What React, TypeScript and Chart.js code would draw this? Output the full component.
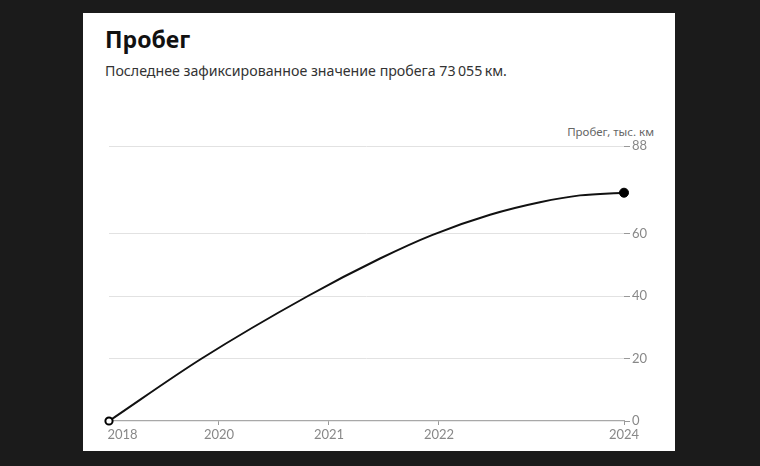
import React, { useEffect, useRef } from "react";
import { Chart, registerables } from "chart.js";

Chart.register(...registerables);

// Data (x positions in fractional years along the time axis, mileage in thousand km)
const xPositions = [2019.0, 2019.843, 2020.809, 2021.464, 2021.936, 2022.464, 2022.918, 2023.282, 2023.682];
const mileage = [0, 20, 40, 52, 59.5, 66.0, 70.0, 72.2, 73.055];
const xTickValues = [2019.0, 2020, 2021, 2022, 2023.682];
const xTickLabels = ["2018", "2020", "2021", "2022", "2024"];
const yTickValues = [0, 20, 40, 60, 88];

const TITLE = "Пробег";
const SUBTITLE = "Последнее зафиксированное значение пробега 73\u2009055\u2009км.";
const AXIS_TITLE = "Пробег, тыс. км";

const xLabelsPlugin = {
  id: "xLabels",
  afterDraw(chart: any) {
    const scale = chart.scales.x;
    const ctx = chart.ctx;
    ctx.save();
    ctx.font = "13px Lato";
    ctx.fillStyle = "#888";
    ctx.textBaseline = "alphabetic";
    xTickValues.forEach((v, i) => {
      const px = scale.getPixelForValue(v);
      ctx.textAlign = i === 0 ? "left" : "center";
      ctx.fillText(xTickLabels[i], i === 0 ? px - 1.5 : px, chart.chartArea.bottom + 18);
    });
    ctx.restore();
  },
};

export default function App() {
  const canvasRef = useRef<HTMLCanvasElement | null>(null);

  useEffect(() => {
    if (!canvasRef.current) return;
    const n = mileage.length;
    const chart = new Chart(canvasRef.current, {
      type: "line",
      data: {
        datasets: [
          {
            data: xPositions.map((x, i) => ({ x, y: mileage[i] })),
            borderColor: "#111",
            borderWidth: 2,
            cubicInterpolationMode: "monotone",
            pointRadius: mileage.map((_, i) => (i === 0 ? 3.6 : i === n - 1 ? 4.5 : 0)),
            pointBackgroundColor: mileage.map((_, i) => (i === 0 ? "#fff" : "#000")),
            pointBorderColor: "#000",
            pointBorderWidth: mileage.map((_, i) => (i === 0 ? 2 : 1)),
            clip: false,
          } as any,
        ],
      },
      options: {
        animation: false,
        responsive: false,
        devicePixelRatio: 1,
        events: [],
        layout: { padding: { left: 109, top: 146, right: 96, bottom: 25 } },
        plugins: {
          legend: { display: false },
          tooltip: { enabled: false },
          title: { display: false },
        },
        scales: {
          x: {
            type: "linear",
            min: xPositions[0],
            max: xPositions[xPositions.length - 1],
            afterBuildTicks: (scale: any) => {
              scale.ticks = xTickValues.map((v) => ({ value: v }));
            },
            afterFit: (scale: any) => {
              scale.height = 20;
            },
            ticks: { display: false },
            grid: {
              drawOnChartArea: false,
              drawTicks: true,
              tickLength: 4,
              tickColor: "#999",
            },
            border: { display: true, color: "#a8a8a8", width: 1.2 },
          },
          y: {
            type: "linear",
            position: "right",
            min: 0,
            max: 88,
            afterBuildTicks: (scale: any) => {
              scale.ticks = yTickValues.map((v) => ({ value: v }));
            },
            afterFit: (scale: any) => {
              scale.width = 40;
            },
            ticks: {
              padding: 2,
              color: "#888",
              font: { family: "Lato", size: 13 },
              callback: (v: any) => String(v),
            },
            grid: {
              color: (c: any) => (c.tick && c.tick.value === 0 ? "rgba(0,0,0,0)" : "#e2e2e2"),
              lineWidth: 1,
              tickLength: 6,
              tickColor: "#999",
            },
            border: { display: false },
          },
        },
      },
      plugins: [xLabelsPlugin],
    });
    return () => chart.destroy();
  }, []);

  return (
    <div style={{ position: "fixed", left: 0, top: 0, width: 760, height: 466, background: "#1b1b1b", overflow: "hidden" }}>
      <div style={{ position: "absolute", left: 83, top: 13, width: 592, height: 438, background: "#fff" }} />
      <div
        style={{
          position: "absolute",
          left: 105,
          top: 28,
          fontFamily: "'Noto Sans', sans-serif",
          fontWeight: 700,
          fontSize: 23,
          lineHeight: "23px",
          color: "#111",
          whiteSpace: "nowrap",
        }}
      >
        {TITLE}
      </div>
      <div
        style={{
          position: "absolute",
          left: 105,
          top: 64,
          fontFamily: "'Noto Sans', sans-serif",
          fontSize: 14.2,
          lineHeight: "14px",
          color: "#333",
          whiteSpace: "nowrap",
        }}
      >
        {SUBTITLE}
      </div>
      <div
        style={{
          position: "absolute",
          right: 106,
          top: 126,
          fontFamily: "'Noto Sans', sans-serif",
          fontSize: 11.5,
          lineHeight: "11px",
          color: "#666",
          whiteSpace: "nowrap",
        }}
      >
        {AXIS_TITLE}
      </div>
      <canvas
        ref={canvasRef}
        width={760}
        height={466}
        style={{ position: "absolute", left: 0, top: 0, width: 760, height: 466, display: "block" }}
      />
    </div>
  );
}
